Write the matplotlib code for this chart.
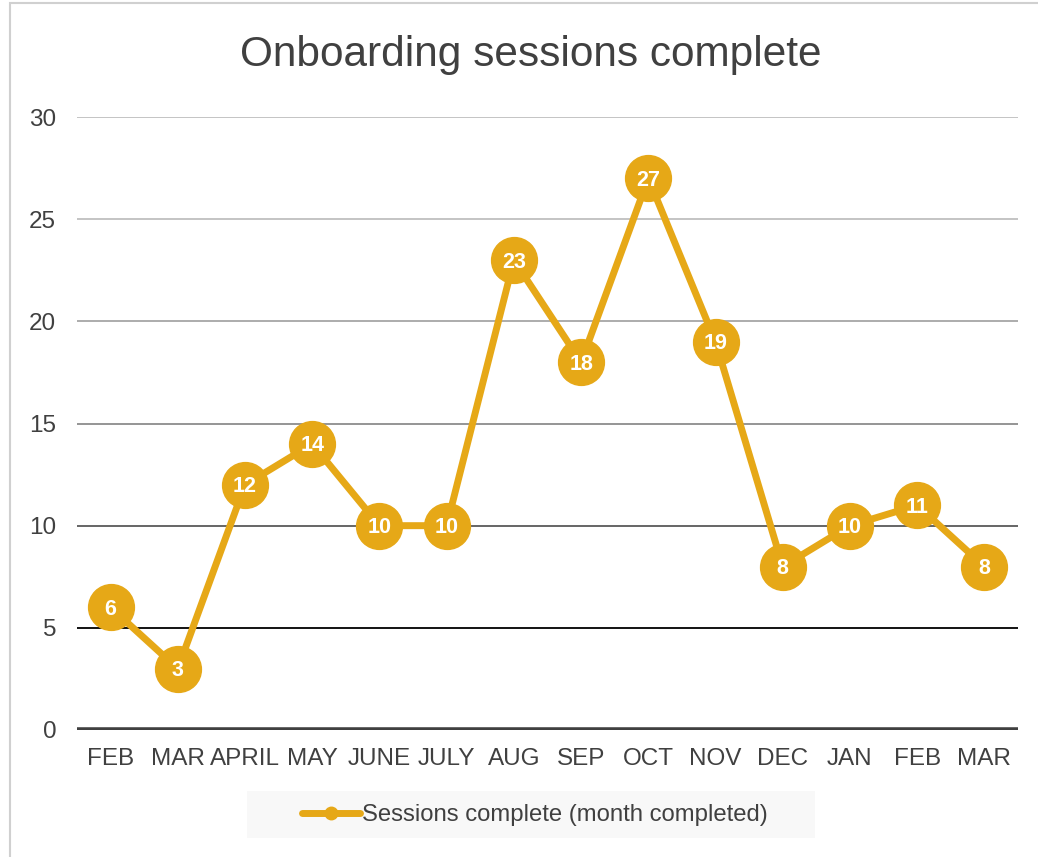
import matplotlib.pyplot as plt
from matplotlib.patches import Rectangle
from matplotlib.lines import Line2D

months = ["FEB", "MAR", "APRIL", "MAY", "JUNE", "JULY", "AUG",
          "SEP", "OCT", "NOV", "DEC", "JAN", "FEB", "MAR"]
sessions = [6, 3, 12, 14, 10, 10, 23, 18, 27, 19, 8, 10, 11, 8]
y_ticks = [0, 5, 10, 15, 20, 25, 30]
grid_colors = ["#404040", "#000000", "#595959", "#8c8c8c", "#a6a6a6", "#bfbfbf", "#bfbfbf"]

GOLD = "#E6A817"
TEXT = "#404040"

plt.rcParams["font.family"] = ["Liberation Sans", "DejaVu Sans"]

fig = plt.figure(figsize=(10.38, 8.57), dpi=100)
ax = fig.add_axes([77 / 1038, 1 - 730 / 857, 941 / 1038, 613 / 857])

# outer chart border (only left and top visible in the crop)
fig.add_artist(Rectangle((10 / 1038, -0.1), 1.2, 1.1 - 3 / 857,
                         transform=fig.transFigure, fill=False,
                         edgecolor="#d0d0d0", linewidth=1.5, zorder=0))

x = list(range(len(months)))

for t, c in zip(y_ticks, grid_colors):
    ax.axhline(t, color=c, linewidth=4 if t == 0 else 1.3, zorder=1)

ax.plot(x, sessions, color=GOLD, linewidth=5, marker="o", markersize=33,
        markeredgecolor=GOLD, markerfacecolor=GOLD, zorder=3,
        solid_capstyle="round")
for xi, v in zip(x, sessions):
    ax.text(xi, v - 0.1, str(v), ha="center", va="center", color="white",
            fontsize=15.5, fontweight="bold", zorder=4)

ax.set_xlim(-0.5, len(months) - 0.5)
ax.set_ylim(0, 30)
ax.set_yticks(y_ticks)
ax.set_xticks(x)
ax.set_xticklabels(months)
ax.tick_params(axis="both", length=0, labelsize=17.5, labelcolor=TEXT)
ax.tick_params(axis="y", pad=15)
ax.tick_params(axis="x", pad=13)
for s in ax.spines.values():
    s.set_visible(False)

fig.text(531 / 1038, 1 - 55 / 857, "Onboarding sessions complete",
         ha="center", va="center", fontsize=30.5, color=TEXT)

# legend
fig.add_artist(Rectangle((247 / 1038, 1 - 838 / 857), 568 / 1038, 47 / 857,
                         transform=fig.transFigure, facecolor="#f8f8f8",
                         edgecolor="none", zorder=1))
handle = Line2D([], [], color=GOLD, linewidth=5, marker="o", markersize=9,
                solid_capstyle="round")
leg = fig.legend([handle], ["Sessions complete (month completed)"],
                 loc="center", bbox_to_anchor=(535 / 1038, 1 - 815 / 857),
                 frameon=False, fontsize=17.2, handlelength=2.4,
                 handletextpad=0.1, labelcolor=TEXT)
leg.set_zorder(2)

fig.savefig("out.png", dpi=100)
